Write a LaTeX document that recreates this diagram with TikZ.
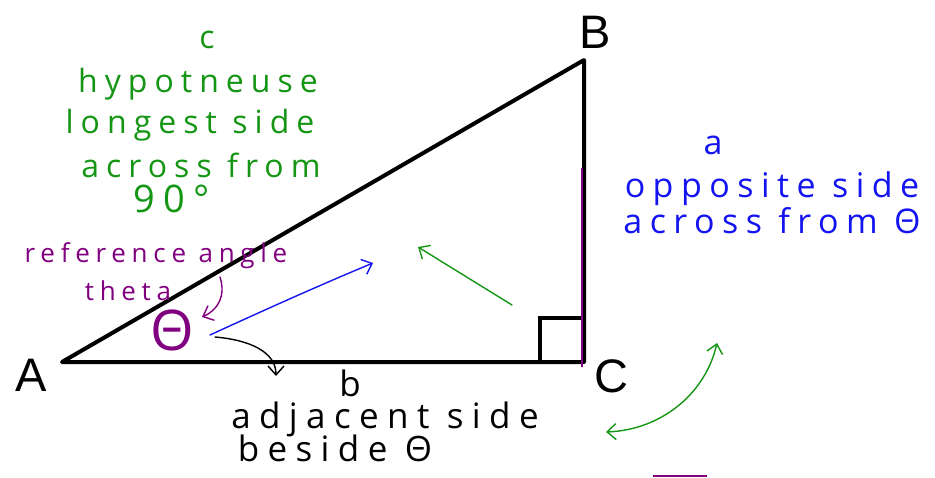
\documentclass[tikz,border=0pt]{standalone}
\usepackage{fontspec}
\setmainfont{Open Sans}
\newfontfamily\labfont{Liberation Sans}
\newfontfamily\hand[LetterSpace=22]{Open Sans}
\newfontfamily\handw[LetterSpace=24]{Open Sans}
\usetikzlibrary{arrows.meta}
\definecolor{hgreen}{RGB}{20,150,20}
\definecolor{hpurple}{RGB}{128,0,128}
\definecolor{hblue}{RGB}{20,20,240}
\begin{document}
\begin{tikzpicture}[x=1pt,y=-1pt,
  vtx/.style={font=\labfont\fontsize{47}{47}\selectfont, inner sep=0pt},
  htxt/.style={font=\hand\fontsize{#1}{#1}\selectfont, anchor=base, inner sep=0pt},
  wtxt/.style={font=\handw\fontsize{#1}{#1}\selectfont, anchor=base, inner sep=0pt},
  barb/.style={-{Straight Barb[length=9pt,width=16pt]}, line width=1.4pt, line cap=round},
  dbarb/.style={{Straight Barb[length=9pt,width=16pt]}-{Straight Barb[length=9pt,width=16pt]}, line width=1.4pt, line cap=round}]
\path[use as bounding box] (0,0) rectangle (935,477);
% vertices
\coordinate (A) at (62,362);
\coordinate (B) at (584,60);
\coordinate (C) at (584,362);
\coordinate (S1) at (540,362);
\coordinate (S2) at (584,318);
\draw[line width=4pt, line join=round] (A) -- (B) -- (C) -- cycle;
\draw[line width=3.5pt] (S1) |- (S2);
% purple marks
\coordinate (P1) at (582,168);
\coordinate (P2) at (582,367);
\draw[hpurple, line width=1.5pt] (P1) -- (P2);
\coordinate (P3) at (653,476);
\coordinate (P4) at (707,476);
\draw[hpurple, line width=2pt] (P3) -- (P4);
% vertex labels
\node[vtx] (lA) at (31,375) {A};
\node[vtx] (lB) at (595,32) {B};
\node[vtx] (lC) at (611,376) {C};
% green hypotenuse text
\node[htxt=32, text=hgreen] (gc) at (207,48) {c};
\node[htxt=32, text=hgreen] (g1) at (198,92) {hypotneuse};
\node[htxt=32, text=hgreen] (g2) at (190,133) {longest side};
\node[htxt=32, text=hgreen] (g3) at (201,177) {across from};
\node[htxt=38, text=hgreen] (g4) at (172,212) {90°};
% purple text
\node[htxt=26, text=hpurple] (p1) at (156,262) {reference angle};
\node[htxt=26, text=hpurple] (p2) at (128,300) {theta};
\node[htxt=56, text=hpurple] (th) at (172,350) {Θ};
% blue text
\node[htxt=34, text=hblue] (ba) at (713,154) {a};
\node[htxt=34, text=hblue] (b1) at (772,197) {opposite side};
\node[htxt=34, text=hblue] (b2) at (772,233) {across from Θ};
% black text
\node[wtxt=35] (kb) at (350,396) {b};
\node[wtxt=35] (k1) at (385,428) {adjacent side};
\node[wtxt=35] (k2) at (335,461) {beside Θ};
% arrows
\coordinate (pa1) at (220,277);
\coordinate (pa2) at (202,317);
\draw[barb, hpurple] (pa1) .. controls (226,296) and (218,310) .. (pa2);
\coordinate (ba1) at (210,335);
\coordinate (ba2) at (373,263);
\draw[barb, hblue] (ba1) .. controls (260,312) and (320,285) .. (ba2);
\coordinate (ga1) at (512,305);
\coordinate (ga2) at (418,247);
\draw[barb, hgreen] (ga1) -- (ga2);
\coordinate (ka1) at (215,337);
\coordinate (ka2) at (276,376);
\draw[barb] (ka1) .. controls (250,340) and (276,352) .. (ka2);
\coordinate (gd1) at (606,432);
\coordinate (gd2) at (717,343);
\draw[dbarb, hgreen] (gd1) .. controls (660,430) and (705,395) .. (gd2);
\end{tikzpicture}
\end{document}
